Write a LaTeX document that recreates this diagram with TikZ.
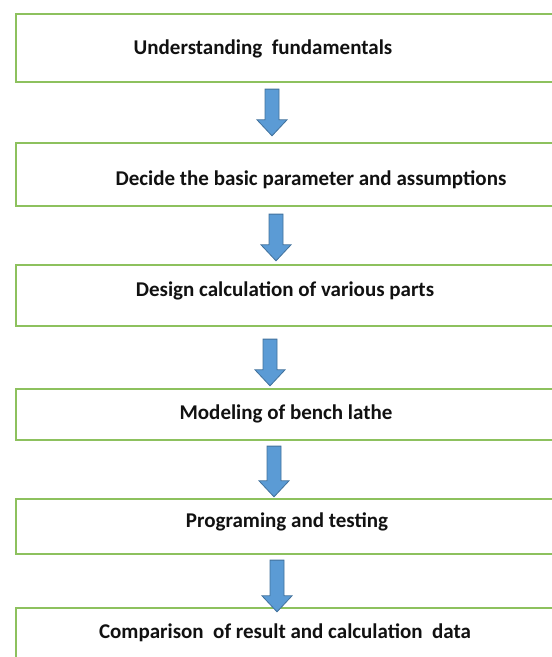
\documentclass[tikz,border=0pt]{standalone}
\usepackage{fontspec}
\setmainfont{Carlito}
\usepackage{tikz}
\usetikzlibrary{
  positioning, calc,
}
\definecolor{cBoxLine}   {HTML}{8DC15E}
\definecolor{cArrowFill} {HTML}{5B9BD5}
\definecolor{cArrowLine} {HTML}{41719C}
\definecolor{cLabel}     {HTML}{111111}

\tikzset{
  stagebox/.style={draw=cBoxLine, line width=2.3pt, fill=white,
                   minimum width=540pt, inner sep=0pt},
  stagetext/.style={font=\fontsize{21}{25}\selectfont\bfseries, text=cLabel,
                    inner sep=0pt, anchor=base},
  % block arrow drawn as one outlined shape between two points
  blockarrow/.style={draw=cArrowLine, fill=cArrowFill, line width=0.8pt,
    to path={let \p1=(\tikztostart), \p2=(\tikztotarget) in
      (\x1-7pt,\y1) -- (\x1+7pt,\y1) -- (\x1+7pt,\y2+16pt) -- (\x1+15pt,\y2+16pt)
      -- (\x1,\y2) -- (\x1-15pt,\y2+16pt) -- (\x1-7pt,\y2+16pt) -- cycle}},
}

\begin{document}
\begin{tikzpicture}[x=1pt, y=1pt]
  \useasboundingbox (0,0) rectangle (552,657);

  % stages
  \node[stagebox, minimum height=68pt] (b1) at (286,609)   {};
  \node[stagebox, minimum height=63pt] (b2) at (286,482.5) {};
  \node[stagebox, minimum height=61pt] (b3) at (286,361.5) {};
  \node[stagebox, minimum height=51pt] (b4) at (286,242.5) {};
  \node[stagebox, minimum height=55pt] (b5) at (286,130.5) {};
  \node[stagebox, minimum height=72pt] (b6) at (286,13)    {};

  \node[stagetext] (t1) at (263,602) {Understanding~ fundamentals};
  \node[stagetext] (t2) at (311,471) {Decide the basic parameter and assumptions};
  \node[stagetext] (t3) at (285,360) {Design calculation of various parts};
  \node[stagetext] (t4) at (286,237) {Modeling of bench lathe};
  \node[stagetext] (t5) at (287,129) {Programing and testing};
  \node[stagetext] (t6) at (285,18)  {Comparison~ of result and calculation~ data};

  % arrows
  \draw[blockarrow] ($(b1.south)+(-14,-6)$)  to ($(b2.north)+(-14,6)$);
  \draw[blockarrow] ($(b2.south)+(-10,-7)$)  to ($(b3.north)+(-10,3)$);
  \draw[blockarrow] ($(b3.south)+(-16,-12)$) to ($(b4.north)+(-16,2)$);
  \draw[blockarrow] ($(b4.south)+(-12,-5)$)  to ($(b5.north)+(-12,1)$);
  \draw[blockarrow] ($(b5.south)+(-9,-5)$)   to ($(b6.north)+(-9,-5)$);
\end{tikzpicture}
\end{document}
